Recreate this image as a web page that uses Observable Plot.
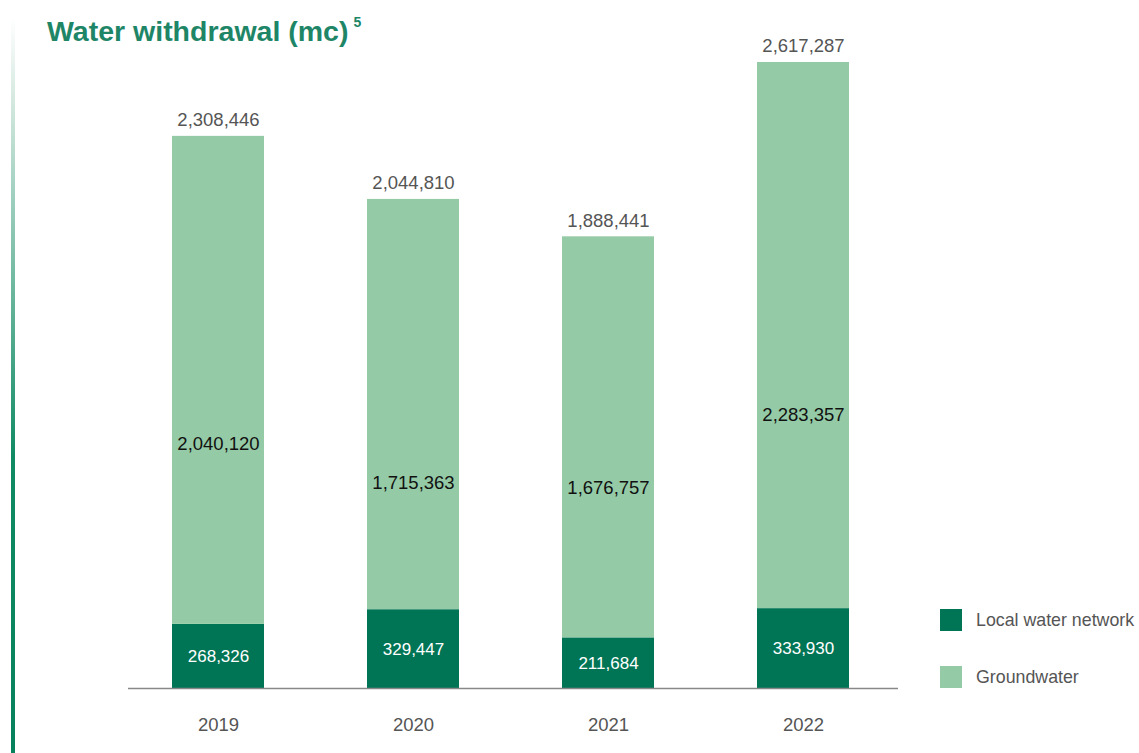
<!DOCTYPE html>
<html>
<head>
<meta charset="utf-8">
<script src="https://cdn.jsdelivr.net/npm/d3@7"></script>
<script src="https://cdn.jsdelivr.net/npm/@observablehq/plot@0.6"></script>
<style>
  html, body { margin: 0; padding: 0; background: #fff; }
  #wrap { position: relative; width: 1139px; height: 753px; overflow: hidden; font-family: "Liberation Sans", Arial, Helvetica, sans-serif; }
  #title { position: absolute; left: 47px; top: 15px; margin: 0; font-size: 28.5px; font-weight: bold; color: #1e8667; white-space: nowrap; }
  #title sup { font-size: 14px; position: relative; top: -4px; margin-left: 5px; }
  #edge { position: absolute; left: 11px; top: 18px; width: 4px; height: 735px; background: linear-gradient(to bottom, rgba(255,255,255,1) 0%, #d9ebe3 10%, #0f8a63 60%, #08825c 100%); }
  #legend { position: absolute; left: 940px; top: 609px; font-size: 17.8px; color: #555; }
  .item { position: absolute; left: 0; white-space: nowrap; display: flex; align-items: center; }
  .sw { width: 22px; height: 22px; margin-right: 14px; flex: none; }
  #chart { position: absolute; left: 0; top: 0; }
</style>
</head>
<body>
<div id="wrap">
  <div id="edge"></div>
  <h2 id="title">Water withdrawal (mc)<sup>5</sup></h2>
  <div id="chart"></div>
  <div id="legend"></div>
</div>
<script>
const years = ["2019", "2020", "2021", "2022"];
const seriesNames = ["Local water network", "Groundwater"];
const localWater = [268326, 329447, 211684, 333930];
const groundwater = [2040120, 1715363, 1676757, 2283357];
const totals = [2308446, 2044810, 1888441, 2617287];
const colors = ["#007555", "#94cba6"];

const rows = [];
years.forEach((yr, i) => {
  rows.push({year: yr, type: seriesNames[0], value: localWater[i]});
  rows.push({year: yr, type: seriesNames[1], value: groundwater[i]});
});
const totalRows = years.map((yr, i) => ({year: yr, total: totals[i]}));
const fmt = d3.format(",");

const chart = Plot.plot({
  width: 1139,
  height: 753,
  marginLeft: 120,
  marginRight: 239,
  marginTop: 62,
  marginBottom: 65,
  style: {fontFamily: "'Liberation Sans', Arial, Helvetica, sans-serif", color: "#555", background: "transparent"},
  x: {domain: years, paddingInner: 0.53, paddingOuter: 0.265, label: null},
  y: {domain: [0, d3.max(totals)], axis: null},
  color: {domain: seriesNames, range: colors},
  marks: [
    Plot.barY(rows, Plot.stackY({x: "year", y: "value", fill: "type", order: seriesNames})),
    Plot.ruleY([0], {stroke: "#888", strokeWidth: 1.5, insetLeft: 8, insetRight: 2}),
    Plot.text(rows.filter(d => d.type === seriesNames[0]), Plot.stackY({x: "year", y: "value", z: "type", text: d => fmt(d.value), fill: "#ffffff", fontSize: 17})),
    Plot.text(rows, Plot.stackY({x: "year", y: "value", z: "type", order: seriesNames, filter: d => d.type === seriesNames[1], text: d => fmt(d.value), fill: "#111", fontSize: 18.5})),
    Plot.text(totalRows, {x: "year", y: "total", text: d => fmt(d.total), dy: -16, fontSize: 18.5, fill: "#555"}),
    Plot.axisX({tickSize: 0, tickPadding: 29, fontSize: 18.5, label: null})
  ]
});
document.getElementById("chart").appendChild(chart);

const legend = document.getElementById("legend");
seriesNames.forEach((name, i) => {
  const item = document.createElement("div");
  item.className = "item";
  item.style.top = (i * 57) + "px";
  const sw = document.createElement("div");
  sw.className = "sw";
  sw.style.background = colors[i];
  const label = document.createElement("span");
  label.textContent = name;
  item.appendChild(sw);
  item.appendChild(label);
  legend.appendChild(item);
});
</script>
</body>
</html>
